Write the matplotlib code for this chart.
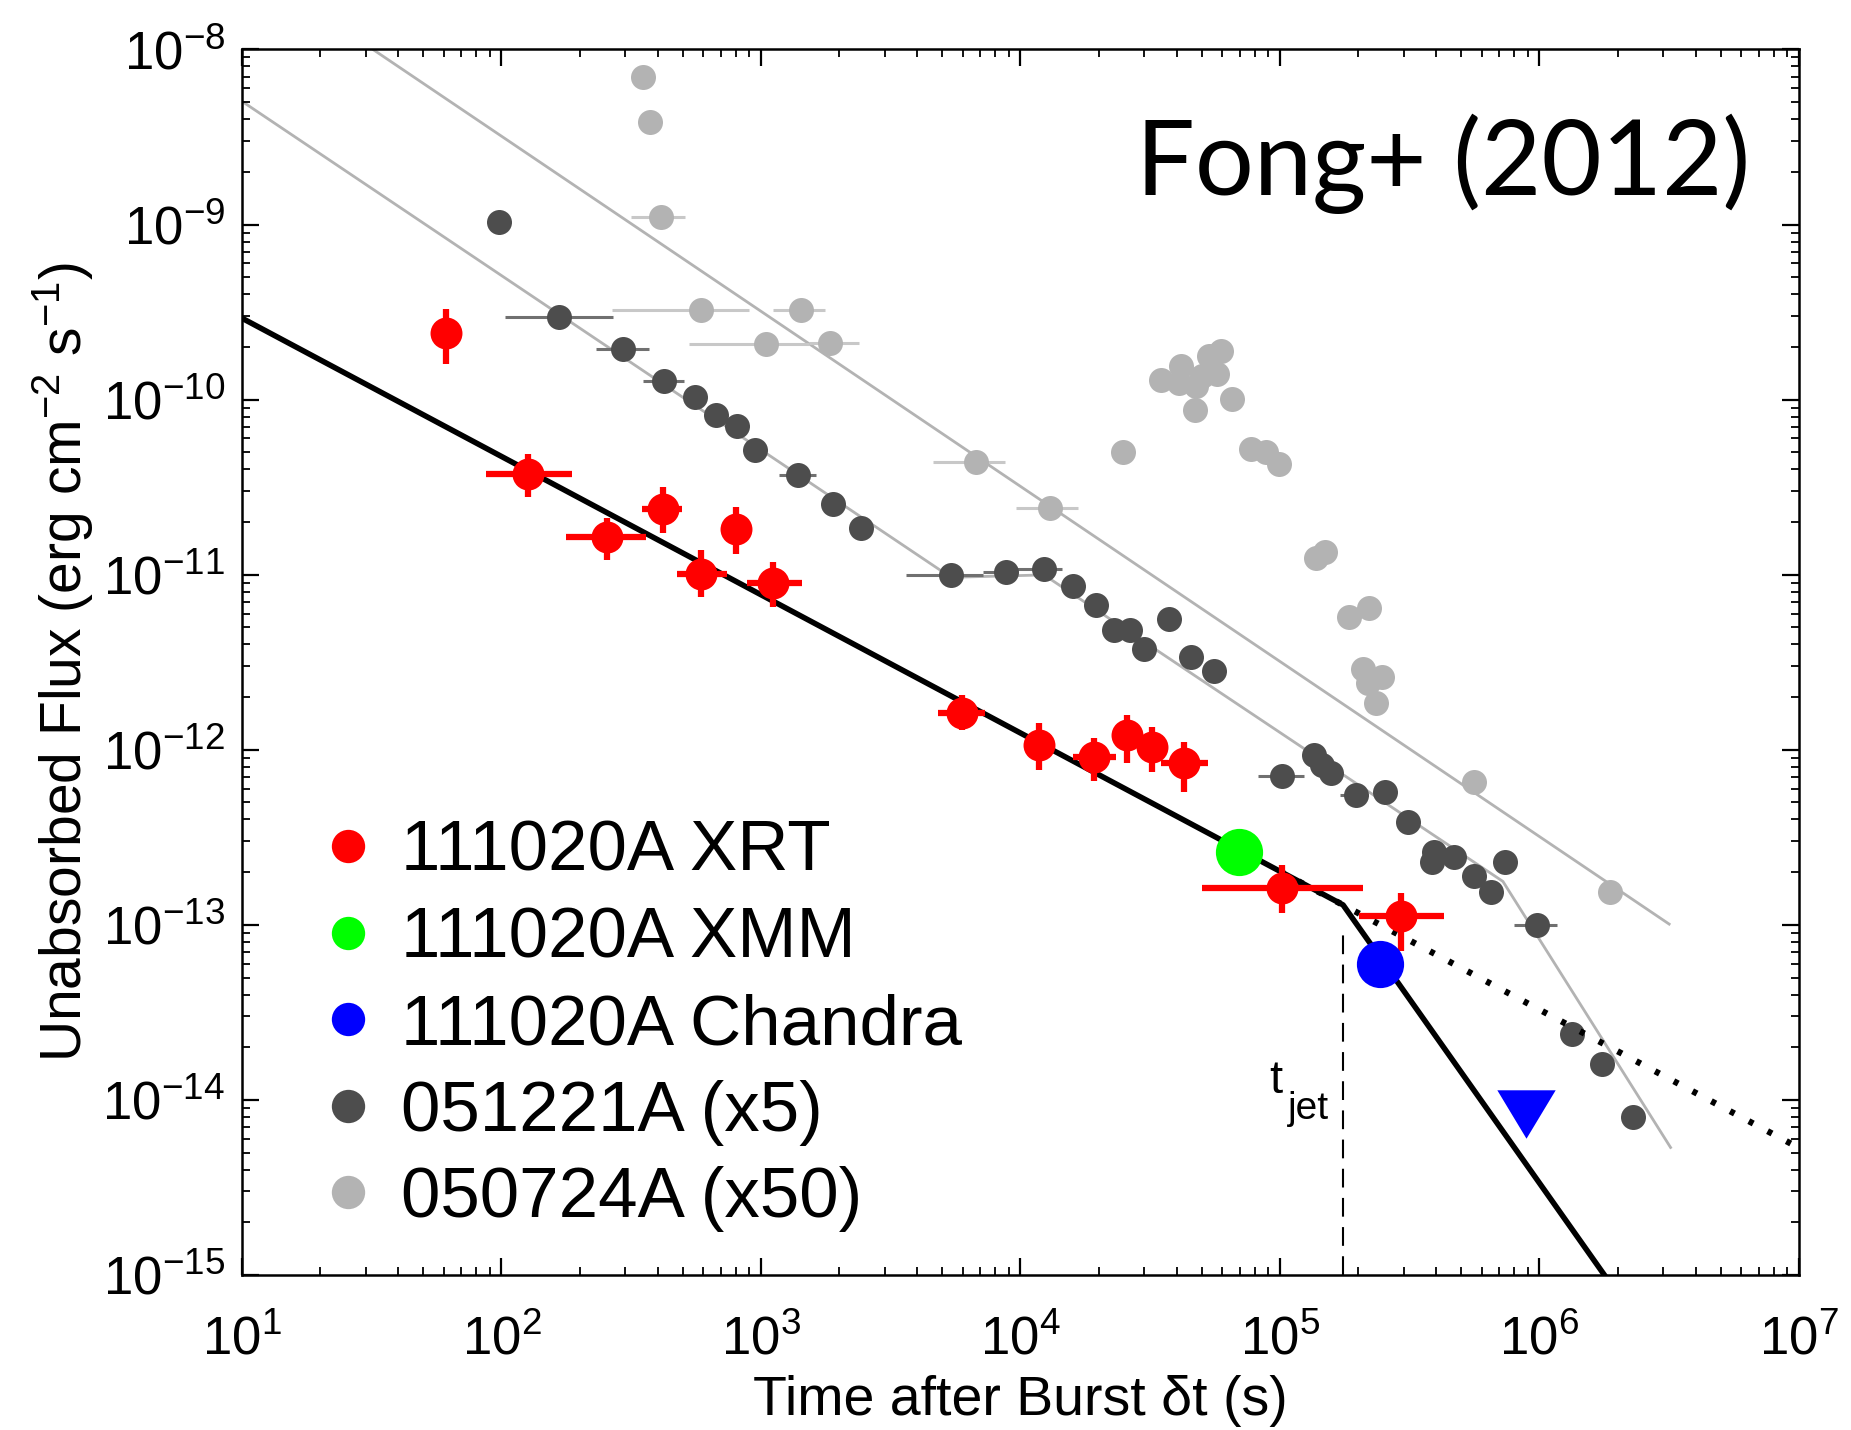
import numpy as np
import matplotlib
matplotlib.use("Agg")
import matplotlib.pyplot as plt
from matplotlib.lines import Line2D

plt.rcParams['font.family'] = ['Liberation Sans', 'DejaVu Sans']
plt.rcParams['mathtext.default'] = 'regular'

# 111020A Swift/XRT
xrt_t = [61, 127, 256, 420, 586, 803, 1110, 5930, 11780, 19200, 25800, 32100, 42700, 102000, 292000]
xrt_f = [2.39e-10, 3.78e-11, 1.64e-11, 2.38e-11, 1.01e-11, 1.82e-11, 8.95e-12, 1.63e-12, 1.06e-12,
         9.12e-13, 1.21e-12, 1.04e-12, 8.36e-13, 1.62e-13, 1.13e-13]
xrt_t_lo = [61, 87, 178, 348, 475, 803, 881, 4810, 11780, 16000, 25800, 32100, 34800, 50100, 202000]
xrt_t_hi = [61, 187, 362, 496, 738, 803, 1442, 7310, 11780, 23300, 25800, 32100, 52600, 208000, 428000]
xrt_f_lo = [1.59e-10, 2.77e-11, 1.22e-11, 1.74e-11, 7.43e-12, 1.32e-11, 6.56e-12, 1.29e-12, 7.63e-13,
            6.62e-13, 8.36e-13, 7.5e-13, 5.75e-13, 1.17e-13, 7.1e-14]
xrt_f_hi = [3.3e-10, 4.92e-11, 2.10e-11, 3.18e-11, 1.38e-11, 2.45e-11, 1.18e-11, 2.05e-12, 1.42e-12,
            1.16e-12, 1.58e-12, 1.35e-12, 1.11e-12, 2.2e-13, 1.52e-13]

# 111020A XMM, Chandra, Chandra upper limit
xmm_t, xmm_f = [69600], [2.62e-13]
cxo_t, cxo_f = [243800], [6.0e-14]
ul_t, ul_f = [891000], [8.36e-15]

# 051221A (x5)
g1_t = [98, 167, 294, 424, 556, 672, 811, 949, 1384, 1892, 2432, 5395, 8810, 12330, 16000, 19540,
        22860, 26470, 30000, 37400, 45400, 55700, 102100, 135200, 145800, 156800, 195700, 254000,
        312600, 392800, 385800, 468000, 559500, 648600, 736000, 979000, 1.33e6, 1.74e6, 2.29e6]
g1_f = [1.03e-9, 2.96e-10, 1.95e-10, 1.27e-10, 1.03e-10, 8.2e-11, 7.03e-11, 5.15e-11, 3.72e-11,
        2.52e-11, 1.85e-11, 9.9e-12, 1.03e-11, 1.08e-11, 8.67e-12, 6.67e-12, 4.81e-12, 4.81e-12,
        3.76e-12, 5.6e-12, 3.39e-12, 2.81e-12, 7.1e-13, 9.3e-13, 8.17e-13, 7.33e-13, 5.51e-13,
        5.75e-13, 3.85e-13, 2.62e-13, 2.30e-13, 2.45e-13, 1.89e-13, 1.55e-13, 2.30e-13, 1.0e-13,
        2.37e-14, 1.61e-14, 8.0e-15]
g1_xerr_t = [167, 294, 424, 1384, 5395, 8810, 12330, 102100, 195700, 979000]
g1_xerr_f = [2.96e-10, 1.95e-10, 1.27e-10, 3.72e-11, 9.9e-12, 1.03e-11, 1.08e-11, 7.1e-13, 5.51e-13, 1.0e-13]
g1_xerr_lo = [103, 231, 351, 1170, 3622, 7160, 9390, 82000, 170600, 795000]
g1_xerr_hi = [270, 370, 507, 1637, 7160, 9390, 14420, 124000, 219300, 1.17e6]

# 050724A (x50)
g2_t = [351, 374, 411, 586, 1429, 1042, 1853, 6714, 13000, 24800, 34800, 41500, 40900, 47400, 53400,
        59200, 57400, 50200, 65600, 47100, 77300, 88200, 99300, 138000, 149000, 184000, 221000,
        208000, 248000, 219000, 234000, 560000, 1.87e6]
g2_f = [7.0e-9, 3.83e-9, 1.11e-9, 3.26e-10, 3.26e-10, 2.08e-10, 2.11e-10, 4.42e-11, 2.41e-11, 5.0e-11,
        1.29e-10, 1.56e-10, 1.25e-10, 1.20e-10, 1.78e-10, 1.90e-10, 1.40e-10, 1.37e-10, 1.01e-10,
        8.74e-11, 5.21e-11, 5.0e-11, 4.29e-11, 1.24e-11, 1.34e-11, 5.7e-12, 6.45e-12, 2.91e-12,
        2.61e-12, 2.4e-12, 1.84e-12, 6.56e-13, 1.54e-13]
g2_xerr_t = [411, 586, 1429, 1042, 1853, 6714, 13000]
g2_xerr_f = [1.11e-9, 3.26e-10, 3.26e-10, 2.08e-10, 2.11e-10, 4.42e-11, 2.41e-11]
g2_xerr_lo = [316, 267, 1110, 528, 1535, 4613, 9590]
g2_xerr_hi = [512, 901, 1758, 1535, 2384, 8730, 16700]

# fitted light curves (vertices of the broken power laws)
fit_t = [10, 1.75e5, 1.8e6]
fit_f = [2.92e-10, 1.30e-13, 9.75e-16]
nobreak_t = [1.0e5, 1.0e7]
nobreak_f = [2.02e-13, 5.32e-15]
t_jet = 1.75e5
g1_fit_t = [10, 5395, 12330, 7.23e5, 3.2e6]
g1_fit_f = [5.06e-9, 9.66e-12, 9.97e-12, 1.77e-13, 5.35e-15]
g2_fit_t = [10, 3.16e6]
g2_fit_f = [3.2e-8, 1.01e-13]

RED, GREEN, BLUE = '#ff0000', '#00ff00', '#0000ff'
DARK, LIGHT = '#4d4d4d', '#b3b3b3'

fig = plt.figure(figsize=(18.51, 14.30), dpi=100)
ax = fig.add_axes([0.1307, 0.1084, 0.8412, 0.857])
ax.set_xscale('log')
ax.set_yscale('log')

# comparison bursts
ax.plot(g2_fit_t, g2_fit_f, color=LIGHT, lw=2, zorder=1)
ax.plot(g1_fit_t, g1_fit_f, color=LIGHT, lw=2, zorder=1)
ax.errorbar(g2_xerr_t, g2_xerr_f,
            xerr=[np.subtract(g2_xerr_t, g2_xerr_lo), np.subtract(g2_xerr_hi, g2_xerr_t)],
            fmt='none', ecolor='#c8c8c8', elinewidth=2.2, capsize=0, zorder=2)
ax.plot(g2_t, g2_f, 'o', color=LIGHT, ms=18, mec='none', zorder=3)
ax.errorbar(g1_xerr_t, g1_xerr_f,
            xerr=[np.subtract(g1_xerr_t, g1_xerr_lo), np.subtract(g1_xerr_hi, g1_xerr_t)],
            fmt='none', ecolor='#707070', elinewidth=2.2, capsize=0, zorder=2)
ax.plot(g1_t, g1_f, 'o', color=DARK, ms=18, mec='none', zorder=3)

# 111020A model
ax.plot(fit_t, fit_f, color='black', lw=4, zorder=4)
ax.plot(nobreak_t, nobreak_f, color='black', lw=4.5, ls=(0, (0.8, 2.6)), zorder=4)
ax.plot([t_jet, t_jet], [1e-15, 9e-14], color='black', lw=1.5, ls=(0, (9, 5)), zorder=4)
ax.text(9.1e4, 1.1e-14, 't', fontsize=34, ha='left', va='baseline')
ax.text(1.55e5, 7.8e-15, 'jet', fontsize=28, ha='right', va='baseline')

# 111020A data
ax.errorbar(xrt_t, xrt_f,
            xerr=[np.subtract(xrt_t, xrt_t_lo), np.subtract(xrt_t_hi, xrt_t)],
            yerr=[np.subtract(xrt_f, xrt_f_lo), np.subtract(xrt_f_hi, xrt_f)],
            fmt='o', color=RED, ms=23, mec='none', elinewidth=4.5, capsize=0, zorder=5)
ax.plot(xmm_t, xmm_f, 'o', color=GREEN, ms=34, mec='none', zorder=6)
ax.plot(cxo_t, cxo_f, 'o', color=BLUE, ms=34, mec='none', zorder=6)
tri = [(-1, 0.83), (1, 0.83), (0, -0.83)]
ax.plot(ul_t, ul_f, marker=tri, ls='none', color=BLUE, ms=42, mec='none', zorder=6)

ax.set_xlim(10, 1e7)
ax.set_ylim(1e-15, 1e-8)
ax.tick_params(which='both', direction='in', top=True, right=True)
ax.tick_params(which='major', length=12, width=1.6, labelsize=38)
ax.tick_params(axis='x', which='major', pad=29)
ax.tick_params(axis='y', which='major', pad=12)
ax.tick_params(which='minor', length=6, width=1.3)
for s in ax.spines.values():
    s.set_linewidth(1.8)

ax.set_xlabel('Time after Burst δt (s)', fontsize=40)
ax.xaxis.set_label_coords(0.5, -0.114)
ax.xaxis.label.set_va('baseline')
ax.set_ylabel('Unabsorbed Flux (erg cm$^{-2}$ s$^{-1}$)', fontsize=41)
ax.yaxis.set_label_coords(-0.094, 0.5)

handles = [Line2D([], [], marker='o', ls='none', color=c, mec='none', ms=24)
           for c in [RED, GREEN, BLUE, DARK, LIGHT]]
labels = ['111020A XRT', '111020A XMM', '111020A Chandra', '051221A (x5)', '050724A (x50)']
ax.legend(handles, labels, loc='lower left', bbox_to_anchor=(0.0475, 0.035), frameon=False,
          fontsize=51, borderpad=0, borderaxespad=0, handlelength=0.9, handletextpad=0.3,
          labelspacing=0.29)

ax.text(0.9685, 0.8814, 'Fong+ (2012)', transform=ax.transAxes, ha='right', va='baseline',
        fontsize=75, family=['Lato', 'DejaVu Sans'])

fig.savefig('out.png', dpi=100)
